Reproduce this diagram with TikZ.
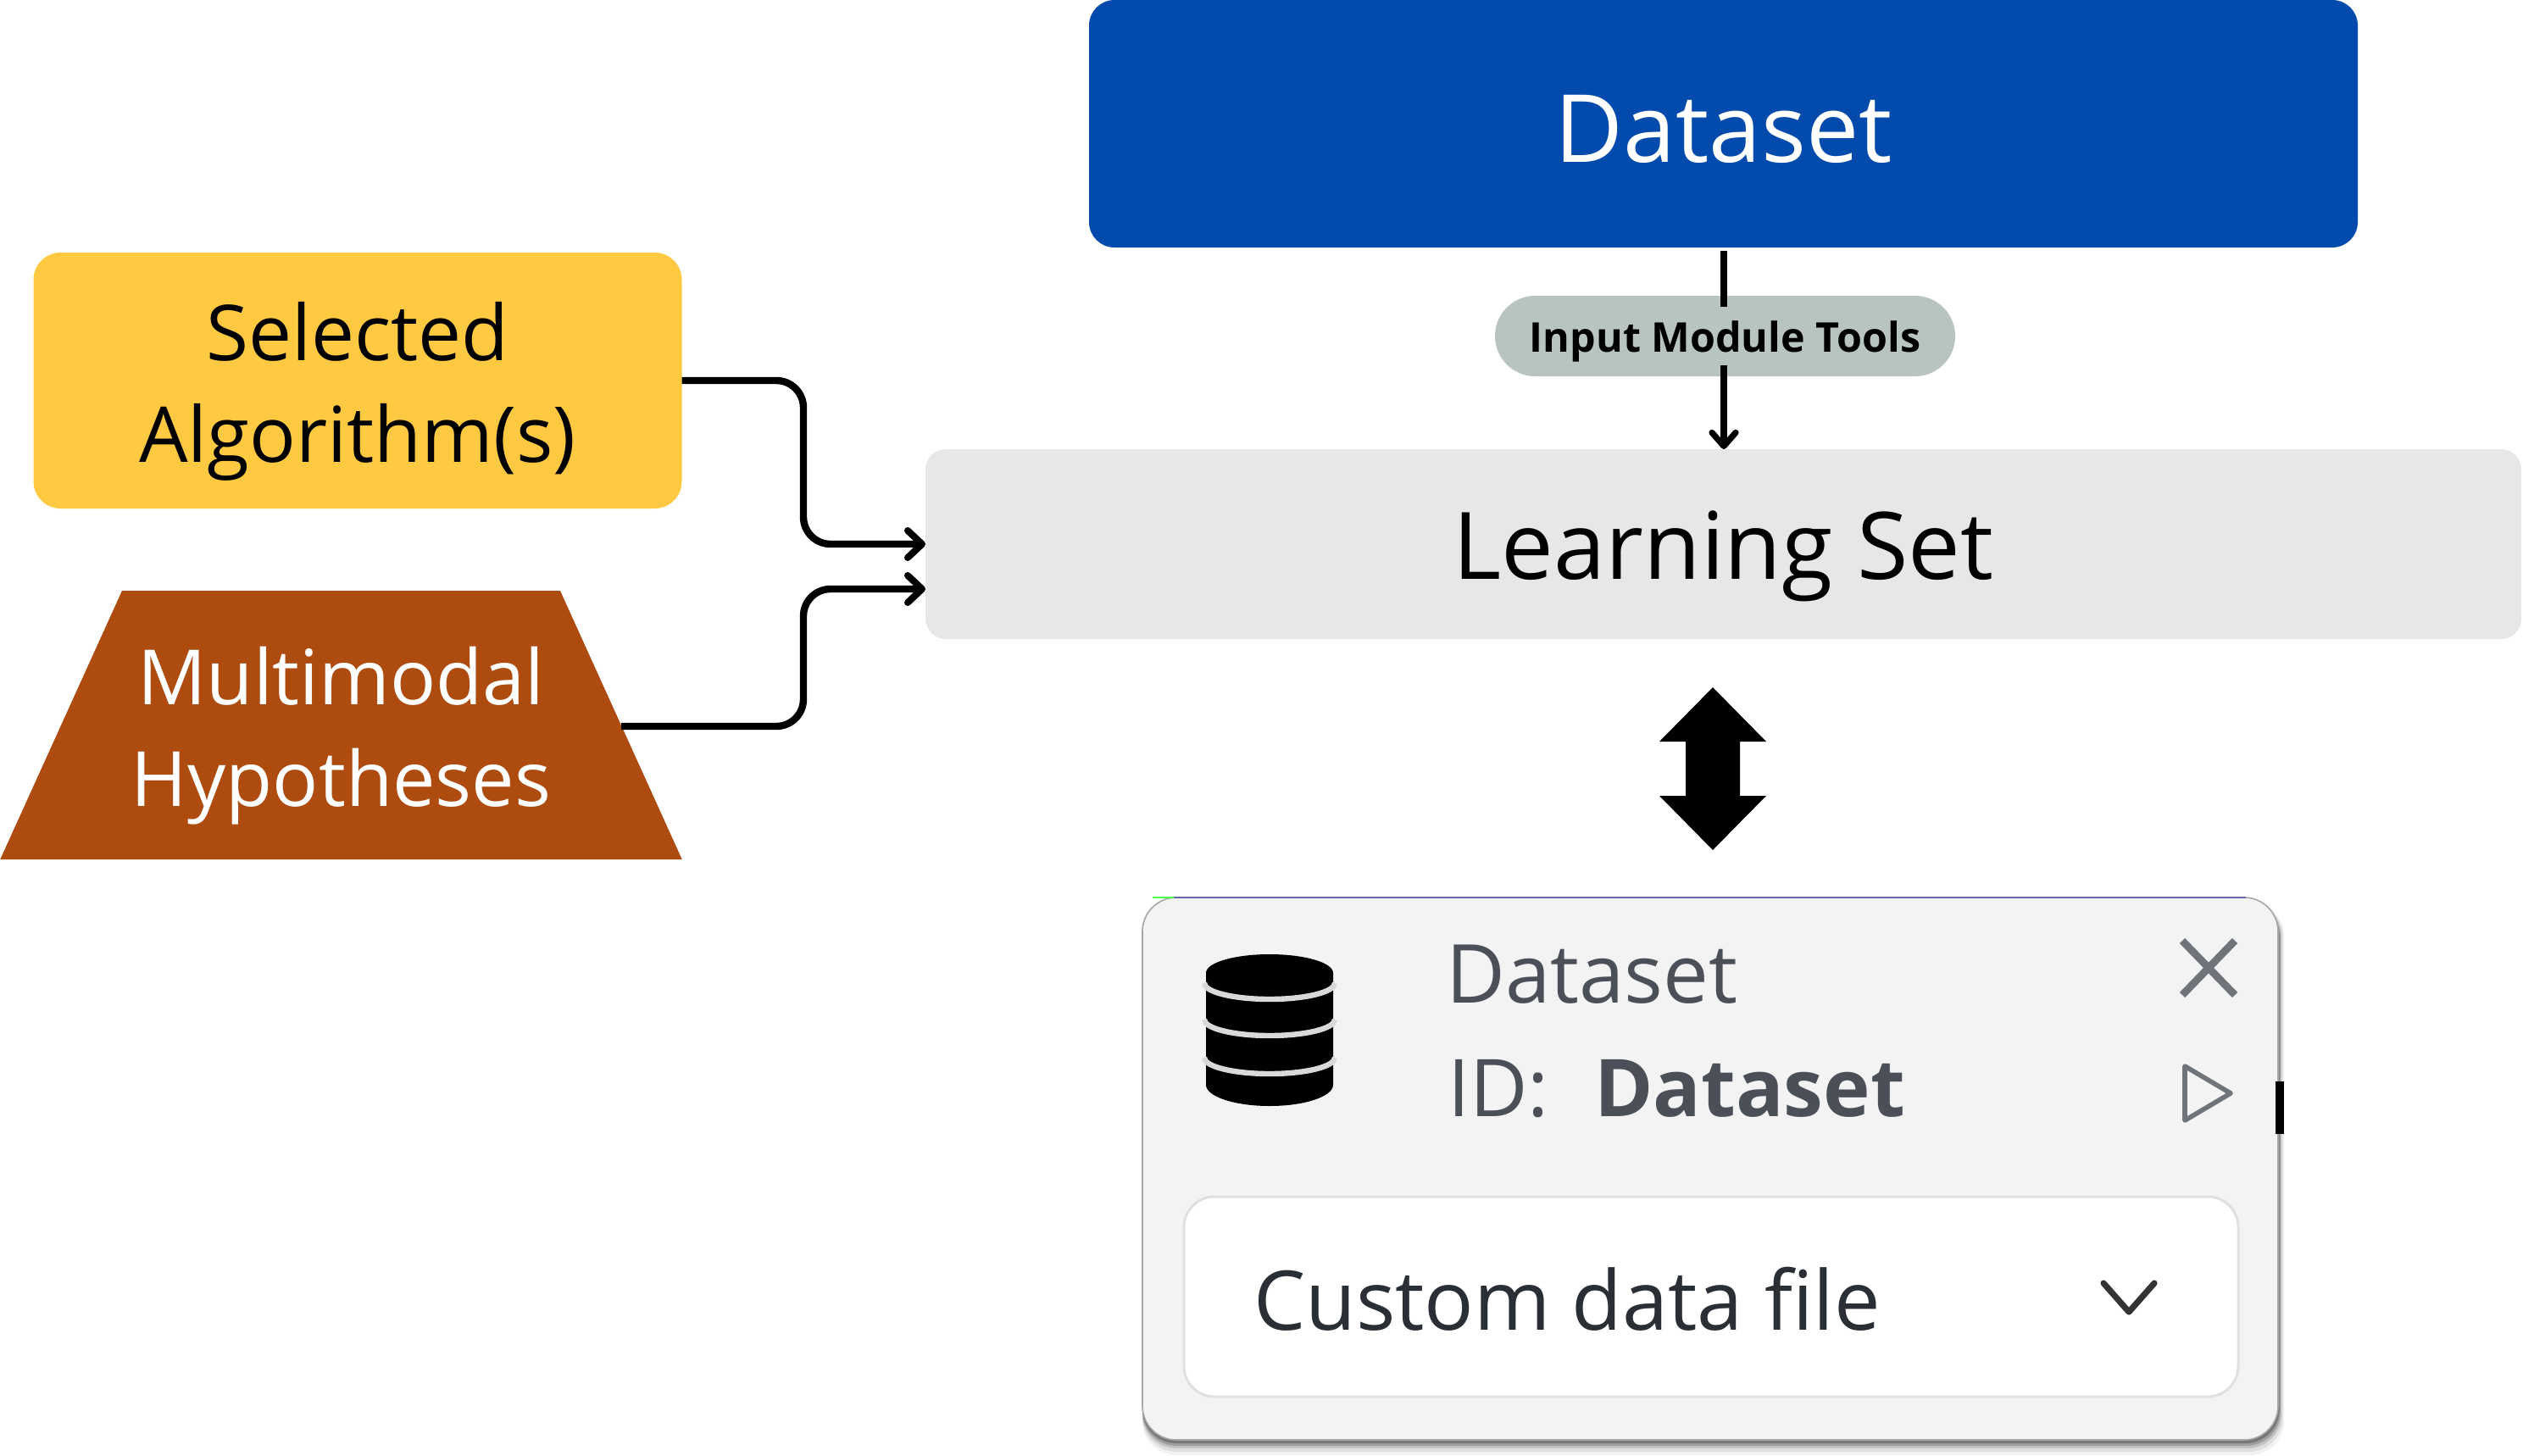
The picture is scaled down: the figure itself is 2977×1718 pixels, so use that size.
\documentclass[tikz,border=0pt]{standalone}
\usepackage{fontspec}
\setmainfont{Open Sans}
\usetikzlibrary{arrows.meta,shapes.geometric,calc}
\definecolor{dsblue}{HTML}{034AAD}
\definecolor{selyellow}{HTML}{FFCA42}
\definecolor{hypbrown}{HTML}{AE4C0F}
\definecolor{lsgrey}{HTML}{E6E8E5}
\definecolor{pillgrey}{HTML}{B8C4C1}
\definecolor{cardgrey}{HTML}{F3F3F3}
\definecolor{cardtext}{HTML}{4B5058}
\definecolor{icongrey}{HTML}{6F747B}
\definecolor{fieldtext}{HTML}{2A2F36}
\tikzset{
  x=0.5pt,y=-0.5pt,
  boxbase/.style={inner sep=0pt,outer sep=0pt,align=center,minimum width=#1},
  conn/.style={line width=4.2pt,rounded corners=16pt,-{Straight Barb[length=8.5pt,width=16pt,line width=4pt,round]}},
  cardtxt/.style={inner sep=0pt,outer sep=0pt,anchor=base west,text=cardtext,font=\fontsize{48}{56}\selectfont},
}
\begin{document}
\begin{tikzpicture}
\useasboundingbox (0,0) rectangle (2977,1718);
\fill[white] (0,0) rectangle (2977,1718);
% boxes
\node[boxbase=748.5pt,minimum height=146pt,fill=dsblue,rounded corners=15pt,text=white,font=\fontsize{55.5}{60}\selectfont] (dataset) at (2033.5,146) {\rule{0pt}{46pt}Dataset};
\node[boxbase=382.5pt,minimum height=151pt,fill=selyellow,rounded corners=16pt,font=\fontsize{45.5}{60}\selectfont] (sel) at (422,449) {\rule{0pt}{47pt}Selected\\Algorithm(s)};
\node[trapezium,trapezium stretches=true,trapezium left angle=59.7,trapezium right angle=59.7,minimum width=402.5pt,minimum height=158.5pt,inner sep=0pt,outer sep=0pt,fill=hypbrown,text=white,align=center,font=\fontsize{45}{60}\selectfont] (hyp) at (402.5,855.5) {\rule{0pt}{47pt}Multimodal\\Hypotheses};
\node[boxbase=941.5pt,minimum height=112pt,fill=lsgrey,rounded corners=12pt,font=\fontsize{55}{60}\selectfont] (ls) at (2033.5,642) {\rule{0pt}{55pt}Learning Set};
\node[boxbase=271.5pt,minimum height=47.5pt,fill=pillgrey,rounded corners=23.7pt,font=\bfseries\fontsize{24.2}{30}\selectfont] (pill) at (2035.5,396.5) {\rule{0pt}{25pt}Input Module Tools};
% connectors
\coordinate (dsout) at (2034,296);
\coordinate (pillin) at (2034,362);
\coordinate (pillout) at (2034,431);
\coordinate (lsin) at (2034,530);
\coordinate (lsa) at (1092,642);
\coordinate (lsb) at (1092,695);
\coordinate (hypout) at (733,857);
\draw[line width=3.6pt] (dsout) -- (pillin);
\draw[line width=3.6pt,-{Straight Barb[length=8pt,width=14pt,line width=3.6pt,round]}] (pillout) -- (lsin);
\draw[conn] (sel.east) -- (948,449) -- (948,642) -- (lsa);
\draw[conn] (hypout) -- (948,857) -- (948,695) -- (lsb);
% double arrow
\fill[black] (2021,811) -- (2084,875) -- (2053,875) -- (2053,939) -- (2084,939) -- (2021,1003) -- (1958,939) -- (1989,939) -- (1989,875) -- (1958,875) -- cycle;
% card shadow
\begin{scope}
\clip (1340,1055) rectangle (2695,1718);
\foreach \d/\o in {18/0.05,14/0.08,10/0.12,7/0.18,4/0.25}{
  \fill[black,opacity=\o,rounded corners=20pt] (1348,1065) rectangle (2688+\d*0.4,1699+\d);
}
\end{scope}
\fill[cardgrey,rounded corners=20pt,draw=black!35,line width=0.8pt] (1348,1059) rectangle (2688,1699);
\draw[black!55!blue!60!white,line width=1.2pt] (1385,1059) -- (2650,1059);
\draw[green!70!white,line width=1.2pt] (1360,1059) -- (1385,1059);
\fill[black] (2685,1276) rectangle (2695,1338);
\node[fill=white,draw=black!12,line width=1.5pt,rounded corners=18pt,minimum width=622pt,minimum height=118pt,inner sep=0pt,outer sep=0pt] (field) at (2019,1530) {};
% database icon
\fill[black] (1423,1148) arc[start angle=180,end angle=360,x radius=75,y radius=22] -- (1573,1280) arc[start angle=0,end angle=180,x radius=75,y radius=25] -- cycle;
\foreach \yy in {1160,1203,1248}{
  \draw[white!85!black,line width=3.2pt] (1421,\yy) arc[start angle=180,end angle=0,x radius=77,y radius=19];
}
% card texts
\node[cardtxt] (t1) at (1706,1183) {Dataset};
\node[cardtxt,font=\fontsize{47}{56}\selectfont] (t2) at (1708,1317) {ID:};
\node[cardtxt,font=\bfseries\fontsize{47}{56}\selectfont] (t3) at (1881,1317) {Dataset};
\node[cardtxt,text=fieldtext,font=\fontsize{48.6}{56}\selectfont] (t4) at (1479,1569) {Custom data file};
% card icons
\draw[icongrey,line width=4.4pt] (2575,1110) -- (2637,1174) (2637,1110) -- (2575,1174);
\draw[icongrey,line width=2.8pt,line join=round] (2578,1258) -- (2632,1290) -- (2578,1322) -- cycle;
\draw[black!80,line width=3.6pt,line cap=round,line join=round] (2482,1514) -- (2512,1548) -- (2542,1514);
\end{tikzpicture}
\end{document}
